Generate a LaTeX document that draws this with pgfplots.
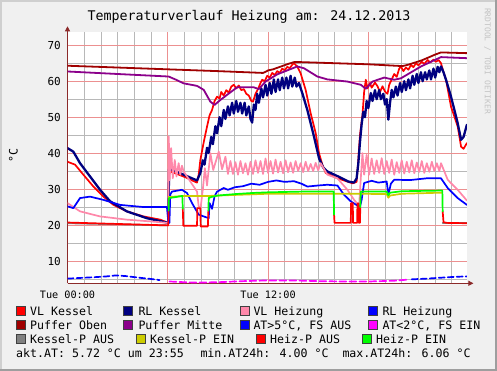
\documentclass[border=0pt]{standalone}
\usepackage{pgfplots}
\pgfplotsset{compat=1.18}
\usepackage{fontspec}
\setmainfont{DejaVu Sans Mono}
\usetikzlibrary{arrows.meta}
\definecolor{vlk}{HTML}{FF0000}
\definecolor{rlk}{HTML}{000080}
\definecolor{vlh}{HTML}{FF88AA}
\definecolor{rlh}{HTML}{0000FF}
\definecolor{po}{HTML}{A00000}
\definecolor{pm}{HTML}{8B008B}
\definecolor{atb}{HTML}{0000FF}
\definecolor{atm}{HTML}{FF00FF}
\definecolor{kpa}{HTML}{808080}
\definecolor{kpe}{HTML}{CCCC00}
\definecolor{hpa}{HTML}{FF0000}
\definecolor{hpe}{HTML}{00FF00}
\definecolor{bg}{HTML}{F0F0F0}
\definecolor{shA}{HTML}{CFCFCF}
\definecolor{shB}{HTML}{9E9E9E}
\definecolor{axiscol}{HTML}{8C2A2A}
\definecolor{mgrid}{HTML}{EC9090}
\definecolor{sgrid}{HTML}{B8B8B8}
\definecolor{wm}{HTML}{C4C4C4}
\newcommand{\legfont}{\fontsize{11.6}{14}\selectfont}
\newcommand{\lbox}[3]{\fill[#3, draw=black!75, line width=0.6pt] (#1,#2-0.3) rectangle ++(9,9);}
\newcommand{\ltext}[3]{\node[anchor=base west, inner sep=0pt, font=\legfont] at (#1,#2) {#3};}
\begin{document}
\begin{tikzpicture}[x=1pt,y=1pt]
\useasboundingbox (0,0) rectangle (497,371);
\fill[bg] (0,0) rectangle (497,371);
\fill[shA] (0,369) rectangle (497,371);
\fill[shA] (0,0) rectangle (2,371);
\fill[shB] (0,0) rectangle (497,2);
\fill[shB] (495,0) rectangle (497,371);
\fill[white] (67.5,87.7) rectangle (466.9,338.7);
\begin{axis}[
  at={(67.5pt,87.7pt)}, anchor=south west,
  scale only axis, width=399.4pt, height=251pt,
  xmin=0, xmax=23.9, ymin=3.8, ymax=73.6,
  axis lines=left,
  axis line style={axiscol, line width=1pt},
  x axis line style={-{Triangle[length=5pt,width=5pt]}, shorten >=-6.5pt},
  y axis line style={-{Triangle[length=5pt,width=5pt]}, shorten >=-6pt},
  xtick={0,12}, xticklabels={Tue 00:00,Tue 12:00},
  ytick={10,20,30,40,50,60,70},
  major tick length=0pt,
  /pgf/number format/assume math mode=true,
  yticklabel style={font=\fontsize{11}{13}\selectfont, anchor=east, inner sep=0pt, xshift=-6.5pt},
  xticklabel style={font=\fontsize{10.2}{12}\selectfont, anchor=north, inner sep=0pt, yshift=-7.7pt},
  no markers,
  every axis plot/.append style={line join=round, line cap=round},
]
% grid
\pgfplotsinvokeforeach{1,2,3,4,5,7,8,9,10,11,13,14,15,16,17,19,20,21,22,23}{
  \draw[sgrid, line width=0.8pt] (axis cs:#1,3.8) -- (axis cs:#1,73.6);}
\pgfplotsinvokeforeach{5,15,25,35,45,55,65}{
  \draw[sgrid, line width=0.8pt] (axis cs:0,#1) -- (axis cs:23.9,#1);}
\pgfplotsinvokeforeach{6,12,18}{
  \draw[mgrid, line width=0.8pt] (axis cs:#1,3.8) -- (axis cs:#1,73.6);}
\pgfplotsinvokeforeach{10,20,30,40,50,60,70}{
  \draw[mgrid, line width=0.8pt] (axis cs:0,#1) -- (axis cs:23.9,#1);}
% VL Kessel
\addplot[vlk, line width=1.7pt] coordinates {
(0,37.6)(0.45,36.8)(0.95,34.0)(1.55,30.7)(2.15,27.9)(2.75,25.6)(3.55,23.8)(4.55,22.4)(5.55,21.5)(6.03,20.6)
(6.08,35.0)(6.5,34.3)(7.1,33.2)(7.5,32.3)(7.75,31.8)(7.85,34.0)(7.95,38.1)(8.15,43.0)(8.35,47.4)(8.5,50.5)(8.65,52.0)(8.8,54.5)(8.95,55.7)
(9.1,55.2)(9.2,57)(9.35,56)(9.5,57.5)(9.65,56.8)(9.8,58.5)(9.95,59)(10.1,58)(10.25,58.8)(10.4,57.5)(10.55,57.8)(10.7,56.5)(10.85,56)(11.0,54.5)(11.1,54.3)
(11.25,56.5)(11.4,57.8)(11.55,59.5)(11.65,60.4)(11.8,60)(11.95,61.5)(12.1,61)(12.25,62.3)(12.4,61.7)(12.55,62.8)(12.7,62.3)(12.85,63.5)(13.0,63)(13.15,64)(13.3,63.6)(13.45,64.6)(13.55,65.0)
(13.75,64.1)(13.95,62.2)(14.25,57.6)(14.55,51.1)(14.85,45.6)(15.05,40.0)(15.25,36.8)(15.45,34.5)(16.15,33.0)(17.05,31.6)(17.3,32.0)(17.4,38)(17.5,45)(17.65,50.6)(17.75,57)(17.85,60.4)
(17.95,58)(18.1,59.5)(18.2,58.2)(18.4,59.6)(18.55,58.6)(18.7,57.0)(18.85,58.6)(19.0,57.1)(19.15,56.5)(19.25,59.0)(19.4,60.5)(19.55,62)(19.7,61.2)(19.85,63.5)(19.95,64.1)
(20.1,62.8)(20.25,63.8)(20.4,63.2)(20.55,64.5)(20.7,63.9)(20.85,65.0)(21.0,64.4)(21.2,65.4)(21.35,64.8)(21.55,65.9)(21.7,65.2)(21.9,66.0)(22.05,65.4)(22.2,65.9)(22.35,65.0)
(22.5,62.5)(22.65,60.4)(22.95,52.9)(23.35,47.4)(23.55,41.8)(23.7,41.2)(23.9,42.8)};
% RL Kessel
\addplot[rlk, line width=2.3pt] coordinates {
(0,41.4)(0.35,40.4)(0.75,37.2)(1.35,33.5)(1.95,29.8)(2.55,26.6)(3.55,23.8)(4.75,21.9)(6.03,20.6)
(6.08,35.6)(6.45,35.0)(7.15,33.6)(7.75,32.4)(7.95,34.5)(8.1,38)(8.2,36.8)(8.35,41.5)(8.45,40)(8.6,44.5)(8.7,42.5)(8.85,47.5)(8.95,45.5)(9.1,50)(9.2,47.5)(9.35,52)(9.45,49.5)
(9.6,53)(9.7,50.5)(9.85,54)(9.95,51)(10.1,54.5)(10.2,51.5)(10.35,54)(10.45,51)(10.6,54)(10.7,50.5)(10.85,53)(10.95,49.5)(11.05,48.5)(11.15,53.5)(11.25,52)(11.35,56.5)(11.45,54)
(11.6,58)(11.7,55.5)(11.85,59)(11.95,56)(12.1,59.5)(12.2,56.5)(12.35,60.5)(12.45,57)(12.6,60.5)(12.7,57.5)(12.85,61)(12.95,58)(13.1,61)(13.2,58)(13.35,61.5)(13.45,58.5)(13.6,61)(13.7,58.5)(13.85,59.5)
(14.05,56.7)(14.35,52)(14.75,44.6)(15.05,38.6)(15.3,36.0)(15.55,34.9)(16.2,33.5)(16.8,32.1)(17.15,31.8)(17.3,33)(17.4,37)(17.5,43)(17.6,48)(17.7,51.5)(17.8,50)(17.9,54.5)(18.0,52.5)
(18.15,56.7)(18.25,54.5)(18.4,57.5)(18.5,55)(18.65,57.5)(18.75,55)(18.9,56.5)(19.0,53.5)(19.1,55)(19.2,49.3)(19.3,54)(19.4,57.6)(19.5,55.5)(19.65,58.5)(19.75,56)(19.9,59.5)(20.0,57)
(20.15,60)(20.25,57.5)(20.4,60.5)(20.5,58)(20.65,61.5)(20.75,59)(20.9,62)(21.0,59.5)(21.15,62.5)(21.25,60)(21.4,62.5)(21.5,60.5)(21.65,63)(21.75,60.5)(21.9,63.5)(22.0,61)(22.15,64)(22.25,62.5)(22.35,64.1)
(22.5,62.5)(22.65,60.4)(22.95,55.7)(23.35,48.3)(23.55,43.7)(23.7,44.5)(23.9,47.9)};
% VL Heizung
\addplot[vlh, line width=1.7pt] coordinates {
(0,26.1)(0.75,23.8)(1.95,22.4)(3.55,21.5)(5.0,21.0)(6.03,20.6)
(6.06,44.6)(6.11,32.5)(6.2,41.4)(6.3,33.0)(6.42,38.1)(6.52,33.5)(6.65,37.2)(6.75,34.0)(6.85,36.5)(6.95,34.9)(7.35,32.1)(7.75,29.3)(7.85,25.2)(7.95,24.2)
(8.1,30)(8.22,35.8)(8.35,31.0)(8.55,40.0)(8.72,35.3)(9.05,40.4)(9.25,35.5)(9.45,39.0)(9.6,34.2)(9.75,37.8)
(9.9,34.2)(10.05,37.5)(10.2,34.0)(10.35,37.8)(10.5,34.4)(10.65,37.2)(10.8,34.0)(10.95,37.6)(11.1,34.2)(11.25,38.0)(11.4,34.5)(11.55,37.8)(11.7,34.2)(11.85,38.5)
(12.0,34.5)(12.15,37.8)(12.3,34.3)(12.45,38.2)(12.6,34.6)(12.75,37.6)(12.9,34.4)(13.05,38.0)(13.2,34.7)(13.35,37.4)(13.5,34.5)(13.65,37.8)(13.8,35.0)(13.95,37.2)
(14.1,34.7)(14.25,37.6)(14.4,35.0)(14.55,37.0)(14.7,35.0)(14.85,37.3)(15.0,35.2)(15.15,37.2)
(15.55,34.0)(16.15,33.0)(16.75,29.8)(17.15,27.0)(17.45,25.4)(17.55,33)(17.65,40.0)(17.75,34)(17.9,39.5)(18.05,34)
(18.2,38.5)(18.35,34.2)(18.5,38)(18.65,34.5)(18.8,38.6)(18.95,34.2)(19.1,37.8)(19.25,34.5)(19.4,38.2)(19.55,34.0)(19.7,37.5)(19.85,34.5)(20.0,38.0)
(20.15,34.3)(20.3,37.6)(20.45,34.6)(20.6,38.0)(20.75,34.4)(20.9,37.4)(21.05,34.8)(21.2,37.8)(21.35,34.5)(21.5,37.2)(21.65,34.8)(21.8,37.6)(21.95,35.0)(22.1,37.2)(22.25,35.0)(22.35,37.2)
(22.75,32.6)(23.35,29.8)(23.9,26.8)};
% RL Heizung
\addplot[rlh, line width=1.7pt] coordinates {
(0,25.2)(0.35,24.7)(0.75,27.5)(1.35,27.9)(2.15,27.0)(3.15,25.6)(4.55,25.0)(5.95,25.0)(6.03,21.0)(6.1,20.6)(6.15,28.5)(6.25,29.3)(6.85,29.8)(7.15,28.9)(7.45,26.1)(7.85,22.9)(8.45,21.9)
(8.5,26.1)(8.65,24.5)(8.8,28)(8.95,29.3)(9.35,30.3)(9.6,29.8)(10,30.5)(10.5,30.8)(11,31.5)(11.5,31.2)(12,32.0)(12.5,32.4)(13,32.0)(13.55,32.2)(14,31.5)(14.35,30.7)(15,31.0)(15.55,31.2)(16.15,31.0)
(16.55,28.4)(16.95,26.6)(17.35,25.4)(17.5,25.0)(17.6,27)(17.75,31.7)(18.2,32.3)(18.6,31.8)(19.1,32.1)(19.2,28.4)(19.35,31.5)(19.55,32.6)(20.5,32.5)(21.5,33.0)(22.35,33.0)(22.75,30.3)(23.35,27.5)(23.9,25.6)};
% Puffer Oben
\addplot[po, line width=1.8pt] coordinates {
(0,64.3)(3,63.8)(6,63.3)(9,62.8)(11.7,62.3)(11.85,62.6)(12.0,63.0)(12.3,63.3)(12.6,63.8)(12.9,64.3)(13.2,64.8)(13.55,65.3)(14,65.3)(16,65.0)(18,64.7)(20.05,64.2)
(20.4,64.6)(20.8,65.2)(21.2,65.8)(21.6,66.6)(22.0,67.4)(22.35,68.0)(23.9,67.8)};
% Puffer Mitte
\addplot[pm, line width=1.8pt] coordinates {
(0,62.7)(3,62.0)(6.05,61.3)(6.45,60.5)(6.95,59.4)(7.75,58.7)(8.15,57.6)(8.55,54.3)(8.8,53.4)(9.15,54.8)(9.55,56.2)(10.15,58.3)(11.15,58.3)(11.45,57.8)(11.85,59.9)(12.55,61.9)
(13.75,64.1)(14.15,63.6)(14.95,61.3)(15.55,60.5)(16.75,59.9)(17.55,59.0)(17.85,57.9)(18.25,59.9)(18.95,61.0)(19.55,60.4)(19.95,60.8)(21.15,64.1)(22.35,66.7)(23.9,66.4)};
% AT > 5
\addplot[atb, line width=1.7pt, dash pattern=on 6pt off 3pt] coordinates {
(0,5.1)(0.8,5.3)(1.6,5.5)(2.3,5.7)(2.9,6.0)(3.5,5.8)(4.2,5.4)(5.0,5.0)(5.5,4.7)};
\addplot[atb, line width=1.7pt, dash pattern=on 6pt off 3pt] coordinates {
(20.6,4.9)(21.5,5.1)(22.5,5.4)(23.2,5.6)(23.9,5.72)};
% AT < 2
\addplot[atm, line width=1.7pt, dash pattern=on 7pt off 3pt] coordinates {
(6.1,4.3)(7.0,4.1)(7.8,4.0)(9.0,4.1)(10.5,4.4)(12.0,4.6)(13.5,4.6)(15.0,4.4)(16.5,4.3)(18.0,4.3)(19.5,4.5)(20.3,4.8)};
% Kessel-P AUS
\addplot[kpa, line width=1.7pt] coordinates {(0,20.5)(6.03,19.9)};
\addplot[kpa, line width=1.7pt] coordinates {(22.45,20.5)(23.9,20.5)};
% Kessel-P EIN
\addplot[kpe, line width=1.7pt] coordinates {
(6.05,27.8)(7,28.1)(8.5,28.1)(9,28.2)(12,28.7)(16,28.7)(17.5,28.7)(19.1,28.6)(19.2,27.6)(19.3,28.2)(20,28.7)(22.4,29.0)};
% Heiz-P AUS
\addplot[hpa, line width=1.7pt] coordinates {(0,20.7)(3,20.3)(6.03,19.9)(6.05,24)};
\addplot[hpa, line width=1.7pt] coordinates {(6.9,24.5)(6.93,19.8)(7.75,19.8)(7.77,24.7)(7.95,24.7)(7.97,19.6)(8.4,19.6)(8.43,24)};
\addplot[hpa, line width=1.7pt] coordinates {(15.95,22.9)(15.98,20.6)(16.95,20.6)(16.97,26.1)(17.07,26.1)(17.09,20.6)(17.33,20.6)(17.35,26)(17.42,26)(17.44,20.6)(17.5,20.6)(17.52,25)};
\addplot[hpa, line width=1.7pt] coordinates {(22.45,23.8)(22.5,20.8)(22.7,20.6)(23.9,20.5)};
% Heiz-P EIN
\addplot[hpe, line width=1.7pt] coordinates {(6.05,24)(6.07,27.5)(6.5,27.8)(6.87,28.1)(6.9,24.5)};
\addplot[hpe, line width=1.7pt] coordinates {(8.43,24)(8.45,27.5)(8.6,27.8)(9.0,28.2)(9.5,28.4)(10,28.6)(11,28.9)(12,29.1)(13,29.2)(14,29.3)(15,29.3)(15.93,29.3)(15.95,22.9)};
\addplot[hpe, line width=1.7pt] coordinates {(17.52,25)(17.55,29.3)(19.1,29.3)(19.2,28.3)(19.3,29.0)(20,29.4)(22.43,29.6)(22.45,23.8)};
\end{axis}
% title and labels
\node[anchor=base, inner sep=0pt, font=\fontsize{13.3}{16}\selectfont] at (249,350.3) {Temperaturverlauf Heizung am: 24.12.2013};
\node[rotate=90, inner sep=0pt, font=\legfont] at (13.3,215.2) {°C};
\node[rotate=-90, inner sep=0pt, font=\fontsize{8}{9}\selectfont, text=wm] at (487.5,310) {RRDTOOL / TOBI OETIKER};
% legend
\lbox{16}{55.7}{vlk}\ltext{30}{55.7}{VL Kessel}
\lbox{123.3}{55.7}{rlk}\ltext{138.3}{55.7}{RL Kessel}
\lbox{240}{55.7}{vlh}\ltext{253.3}{55.7}{VL Heizung}
\lbox{368.3}{55.7}{rlh}\ltext{382.3}{55.7}{RL Heizung}
\lbox{16}{41.7}{po}\ltext{30}{41.7}{Puffer Oben}
\lbox{123.3}{41.7}{pm}\ltext{138.3}{41.7}{Puffer Mitte}
\lbox{240}{41.7}{atb}\ltext{253.3}{41.7}{AT>5°C, FS AUS}
\lbox{368.3}{41.7}{atm}\ltext{382.3}{41.7}{AT<2°C, FS EIN}
\lbox{16}{27.7}{kpa}\ltext{30}{27.7}{Kessel-P AUS}
\lbox{136.7}{27.7}{kpe}\ltext{150}{27.7}{Kessel-P EIN}
\lbox{256}{27.7}{hpa}\ltext{270}{27.7}{Heiz-P AUS}
\lbox{362.3}{27.7}{hpe}\ltext{376}{27.7}{Heiz-P EIN}
\ltext{16}{13.7}{akt.AT: 5.72 °C um 23:55}
\ltext{200.3}{13.7}{min.AT24h: 4.00 °C}
\ltext{342.3}{13.7}{max.AT24h: 6.06 °C}
\end{tikzpicture}
\end{document}
